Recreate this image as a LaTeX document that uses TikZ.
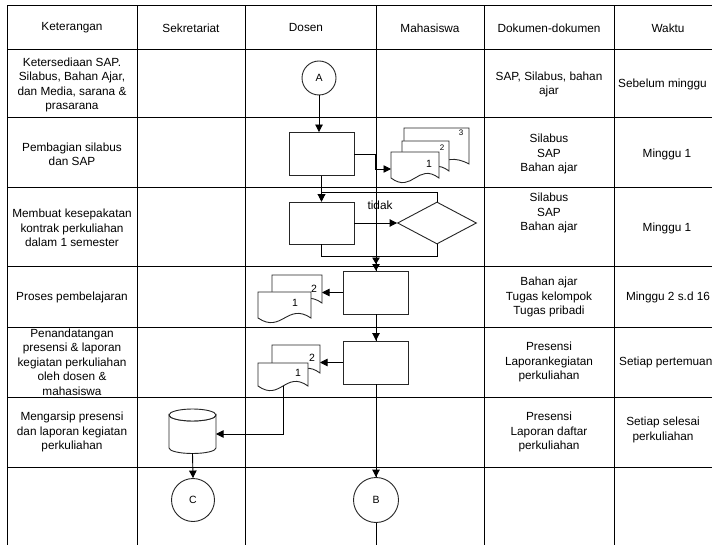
\documentclass[tikz,border=0pt]{standalone}
\usepackage{fontspec}
\setmainfont{Liberation Sans}
\usetikzlibrary{arrows.meta,shapes.geometric}
\newcommand{\docshape}[4]{\draw[docsheet] (#1,#2) -- (#3,#2) -- (#3,#4) .. controls ({#1+0.55*(#3-#1)},{#4-16}) and ({#1+0.45*(#3-#1)},{#4+16}) .. (#1,#4) -- cycle;}
\begin{document}
\begin{tikzpicture}[x=1pt,y=-1pt,
 gridline/.style={line width=1pt,draw=black},
 proc/.style={draw=black!85,line width=0.9pt,fill=white,minimum width=65pt,minimum height=43pt,inner sep=0pt},
 conn/.style={draw=black!85,line width=0.9pt,circle,fill=white,inner sep=0pt,font=\fontsize{10.5}{12}\selectfont},
 dec/.style={draw=black!85,line width=0.9pt,diamond,fill=white,minimum width=79pt,minimum height=42pt,inner sep=0pt},
 flow/.style={line width=0.9pt,draw=black},
 arr/.style={flow,-{Triangle[length=7.5pt,width=7.5pt]}},
 darr/.style={flow,-{Triangle[length=6.5pt,width=7.5pt]Triangle[length=6.5pt,width=7.5pt]}},
 docsheet/.style={draw=black!85,line width=0.9pt,fill=white},
 txt/.style={align=center,font=\fontsize{11.8}{14.5}\selectfont,inner sep=0pt},
 num/.style={inner sep=0pt,font=\fontsize{10.5}{12}\selectfont},
 smallnum/.style={inner sep=0pt,font=\fontsize{8}{9}\selectfont},
]
\useasboundingbox (0,0) rectangle (712,545);
\fill[white] (0,0) rectangle (712,545);
% grid
\foreach \x in {7,137,245,376,484,614} \draw[gridline] (\x,6) -- (\x,545);
\foreach \y in {6,50,118,188,267,327,397,467} \draw[gridline] (7,\y) -- (712,\y);
% headers
\node[txt] (h1) at (72,28) {Keterangan};
\node[txt] (h2) at (191,28) {Sekretariat};
\node[txt] (h3) at (306,28) {Dosen};
\node[txt] (h4) at (430,28) {Mahasiswa};
\node[txt] (h5) at (549,28) {Dokumen-dokumen};
\node[txt] (h6) at (668,28) {Waktu};
% keterangan
\node[txt] (k1) at (72,85) {Ketersediaan SAP.\\Silabus, Bahan Ajar,\\dan Media, sarana \&\\prasarana};
\node[txt] (k2) at (72,154.5) {Pembagian silabus\\dan SAP};
\node[txt] (k3) at (72,228) {Membuat kesepakatan\\kontrak perkuliahan\\dalam 1 semester};
\node[txt] (k4) at (72,297) {Proses pembelajaran};
\node[txt] (k5) at (72,362) {Penandatangan\\presensi \& laporan\\kegiatan perkuliahan\\oleh dosen \&\\mahasiswa};
\node[txt] (k6) at (72,432) {Mengarsip presensi\\dan laporan kegiatan\\perkuliahan};
% dokumen
\node[txt] (dk1) at (549,84.5) {SAP, Silabus, bahan\\ajar};
\node[txt] (dk2) at (549,154) {Silabus\\SAP\\Bahan ajar};
\node[txt] (dk3) at (549,213) {Silabus\\SAP\\Bahan ajar};
\node[txt] (dk4) at (549,297) {Bahan ajar\\Tugas kelompok\\Tugas pribadi};
\node[txt] (dk5) at (549,362) {Presensi\\Laporankegiatan\\perkuliahan};
\node[txt] (dk6) at (549,432) {Presensi\\Laporan daftar\\perkuliahan};
% waktu
\node[txt,anchor=west] (w1) at (618,84) {Sebelum minggu};
\node[txt] (w2) at (667,154) {Minggu 1};
\node[txt] (w3) at (667,228) {Minggu 1};
\node[txt] (w4) at (668,297) {Minggu 2 s.d 16};
\node[txt,anchor=west] (w5) at (619,362) {Setiap pertemuan};
\node[txt] (w6) at (663,430) {Setiap selesai\\perkuliahan};
% documents
\docshape{404}{128}{469}{164}
\docshape{402}{141}{449}{171}
\docshape{391}{152}{439}{178}
\node[smallnum] (n3a) at (461,133) {3};
\node[smallnum] (n2a) at (442,148) {2};
\node[num] (n1a) at (429,164) {1};
\docshape{272}{275}{322}{303}
\docshape{258}{292}{311}{318}
\node[num] (n2b) at (314,289) {2};
\node[num] (n1b) at (295,303) {1};
\docshape{272}{345}{320}{373}
\docshape{258}{363}{308}{386}
\node[num] (n2c) at (312,358) {2};
\node[num] (n1c) at (298,373) {1};
% cylinder
\node[inner sep=0pt,minimum width=47pt,minimum height=44pt] (cyl) at (192.5,431) {};
\draw[docsheet] (169,415) -- (169,448) arc[start angle=180,end angle=0,x radius=23.5,y radius=5.5] -- (216,415) arc[start angle=0,end angle=180,x radius=23.5,y radius=6] -- cycle;
\draw[docsheet] (192.5,415) ellipse[x radius=23.5,y radius=6];
% flow nodes
\node[conn,minimum size=34pt] (A) at (319,78) {A};
\node[proc] (b1) at (321.5,154) {};
\node[proc,minimum height=42pt] (b2) at (321.5,223) {};
\node[dec] (dia) at (437,223) {};
\node[proc] (b3) at (376,292.5) {};
\node[proc] (b4) at (376,362.5) {};
\node[conn,minimum size=45pt] (B) at (376,500) {B};
\node[conn,minimum size=43pt] (C) at (193,500) {C};
\node[txt] (tidak) at (380,205) {tidak};
% coordinates
\coordinate (m1) at (391,169);
\coordinate (d4) at (322,292.5);
\coordinate (d5) at (320,362.5);
\coordinate (d5b) at (283,386);
\coordinate (cylin) at (216,434);
\coordinate (j) at (376,256);
\coordinate (bend) at (376,545);
% connectors
\draw[arr] (A.south) -- (A.south |- b1.north);
\draw[arr] (b1.east) -- ++(21,0) |- (m1);
\draw[arr] (b1.south) -- (b2.north);
\draw[arr] (b2.east) -- (dia.west);
\draw[arr] (dia.north) -- ++(0,-9) -| (b2.north);
\draw[flow] (dia.south) -- ++(0,12) -| (b2.south);
\draw[darr] (j) -- (b3.north);
\draw[arr] (b3.west) -- (d4);
\draw[arr] (b3.south) -- (b4.north);
\draw[arr] (b4.west) -- (d5);
\draw[arr] (d5b) |- (cylin);
\draw[arr] (cyl.south) -- (C.north);
\draw[arr] (b4.south) -- (B.north);
\draw[flow] (B.south) -- (bend);
\end{tikzpicture}
\end{document}
